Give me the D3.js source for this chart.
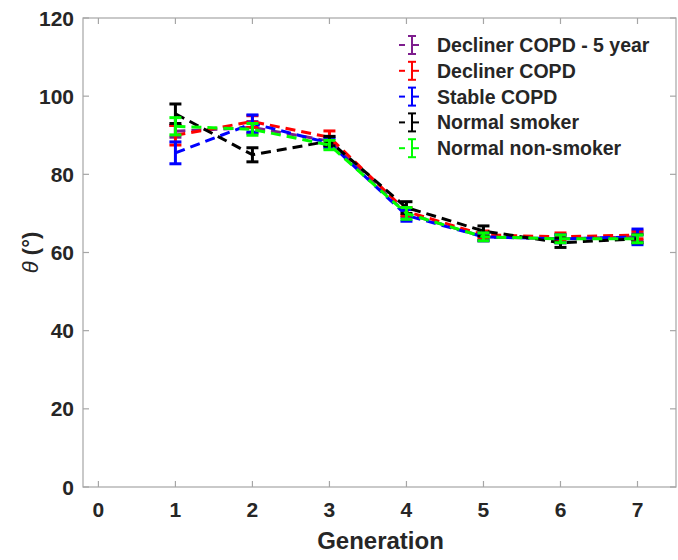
<!DOCTYPE html>
<html>
<head>
<meta charset="UTF-8">
<title>Theta by generation</title>
<script src="https://d3js.org/d3.v7.min.js"></script>
<style>
  body { margin: 0; background: #fff; }
  text { font-family: "Liberation Sans", Arial, sans-serif; font-weight: bold; fill: #262626; }
</style>
</head>
<body>
<svg class="chart"></svg>
<script>
// values
const generations = [1, 2, 3, 4, 5, 6, 7];
const xTicks = [0, 1, 2, 3, 4, 5, 6, 7];
const yTicks = [0, 20, 40, 60, 80, 100, 120];

const seriesNames = ["Decliner COPD - 5 year", "Decliner COPD", "Stable COPD", "Normal smoker", "Normal non-smoker"];
const seriesColors = ["#7e1e8e", "#ff0000", "#0000ff", "#000000", "#00ff00"];

const declinerFive = [91, 92, 88.5, 70, 64, 63.5, 64];
const declinerFiveErr = [1.5, 1.5, 1.2, 1, 1, 1, 1];
const decliner = [90, 93.5, 89.5, 70.5, 64.5, 64, 64.5];
const declinerErr = [2.5, 1.5, 1.6, 1, 1, 1, 1];
const stable = [85.5, 93, 88, 69.5, 64, 63.5, 64];
const stableErr = [2.8, 2.2, 1.2, 1.5, 1, 1, 2];
const smoker = [95.5, 85, 88.5, 71.5, 65.5, 62.5, 63.5];
const smokerErr = [2.5, 1.8, 1.2, 1.5, 1.3, 1.2, 1];
const nonSmoker = [92.3, 91.5, 87.5, 70, 64, 63.5, 63.5];
const nonSmokerErr = [2.2, 1.5, 1.2, 1.5, 1, 1, 1];

const seriesValues = [declinerFive, decliner, stable, smoker, nonSmoker];
const seriesErrors = [declinerFiveErr, declinerErr, stableErr, smokerErr, nonSmokerErr];

const width = 678, height = 560;
const plot = {left: 83, right: 676, top: 18, bottom: 487};

const svg = d3.select(".chart")
    .attr("width", width)
    .attr("height", height);

const x = d3.scaleLinear().domain([-0.2, 7.5]).range([plot.left, plot.right]);
const y = d3.scaleLinear().domain([0, 120]).range([plot.bottom, plot.top]);

const axisColor = "#a6a6a6";

// box
svg.append("rect")
    .attr("x", plot.left).attr("y", plot.top)
    .attr("width", plot.right - plot.left).attr("height", plot.bottom - plot.top)
    .style("fill", "none").style("stroke", axisColor).style("stroke-width", 1.2);

// inward ticks on all four sides
const tickLen = 6;
xTicks.forEach((t) => {
    svg.append("line").attr("x1", x(t)).attr("x2", x(t))
        .attr("y1", plot.bottom).attr("y2", plot.bottom - tickLen)
        .style("stroke", axisColor).style("stroke-width", 1.2);
    svg.append("line").attr("x1", x(t)).attr("x2", x(t))
        .attr("y1", plot.top).attr("y2", plot.top + tickLen)
        .style("stroke", axisColor).style("stroke-width", 1.2);
    svg.append("text")
        .attr("x", x(t)).attr("y", plot.bottom + 30)
        .attr("text-anchor", "middle")
        .style("font-size", "21px")
        .text(t);
});
yTicks.forEach((t) => {
    svg.append("line").attr("x1", plot.left).attr("x2", plot.left + tickLen)
        .attr("y1", y(t)).attr("y2", y(t))
        .style("stroke", axisColor).style("stroke-width", 1.2);
    svg.append("line").attr("x1", plot.right).attr("x2", plot.right - tickLen)
        .attr("y1", y(t)).attr("y2", y(t))
        .style("stroke", axisColor).style("stroke-width", 1.2);
    svg.append("text")
        .attr("x", plot.left - 9).attr("y", y(t) + 7.5)
        .attr("text-anchor", "end")
        .style("font-size", "21px")
        .text(t);
});

// axis labels
svg.append("text")
    .attr("x", (plot.left + plot.right) / 2 + 1).attr("y", 549)
    .attr("text-anchor", "middle")
    .style("font-size", "24px")
    .text("Generation");

const yLabel = svg.append("text")
    .attr("transform", `translate(38, ${(plot.top + plot.bottom) / 2})rotate(-90)`)
    .attr("text-anchor", "middle")
    .style("font-size", "22px");
yLabel.append("tspan").style("font-style", "italic").style("font-weight", "normal").text("θ");
yLabel.append("tspan").text(" (°)");

// series: dashed lines with error bars
const line = d3.line()
    .x((d, i) => x(generations[i]))
    .y((d) => y(d));

const capW = 6;
seriesValues.forEach((vals, s) => {
    const g = svg.append("g");
    const col = seriesColors[s];
    g.append("path")
        .datum(vals)
        .attr("d", line)
        .style("fill", "none")
        .style("stroke", col)
        .style("stroke-width", 3)
        .style("stroke-dasharray", "10,6");

    const bars = g.selectAll(".err")
        .data(vals).enter().append("g");
    bars.append("line")
        .attr("x1", (d, i) => x(generations[i])).attr("x2", (d, i) => x(generations[i]))
        .attr("y1", (d, i) => y(d - seriesErrors[s][i]))
        .attr("y2", (d, i) => y(d + seriesErrors[s][i]))
        .style("stroke", col).style("stroke-width", 3);
    bars.append("line")
        .attr("x1", (d, i) => x(generations[i]) - capW).attr("x2", (d, i) => x(generations[i]) + capW)
        .attr("y1", (d, i) => y(d + seriesErrors[s][i]))
        .attr("y2", (d, i) => y(d + seriesErrors[s][i]))
        .style("stroke", col).style("stroke-width", 3);
    bars.append("line")
        .attr("x1", (d, i) => x(generations[i]) - capW).attr("x2", (d, i) => x(generations[i]) + capW)
        .attr("y1", (d, i) => y(d - seriesErrors[s][i]))
        .attr("y2", (d, i) => y(d - seriesErrors[s][i]))
        .style("stroke", col).style("stroke-width", 3);
});

// legend
const legend = svg.append("g").attr("transform", "translate(399, 45)");
seriesNames.forEach((name, i) => {
    const row = legend.append("g").attr("transform", `translate(0, ${i * 25.8})`);
    const col = seriesColors[i];
    row.append("line").attr("x1", 0).attr("x2", 6).attr("y1", 0).attr("y2", 0)
        .style("stroke", col).style("stroke-width", 2);
    row.append("line").attr("x1", 13).attr("x2", 20).attr("y1", 0).attr("y2", 0)
        .style("stroke", col).style("stroke-width", 2);
    row.append("line").attr("x1", 13).attr("x2", 13).attr("y1", -9).attr("y2", 9)
        .style("stroke", col).style("stroke-width", 2);
    row.append("line").attr("x1", 9).attr("x2", 17).attr("y1", -9).attr("y2", -9)
        .style("stroke", col).style("stroke-width", 2);
    row.append("line").attr("x1", 9).attr("x2", 17).attr("y1", 9).attr("y2", 9)
        .style("stroke", col).style("stroke-width", 2);
    row.append("text")
        .attr("x", 38).attr("y", 7)
        .style("font-size", "19.5px")
        .text(name);
});
</script>
</body>
</html>
